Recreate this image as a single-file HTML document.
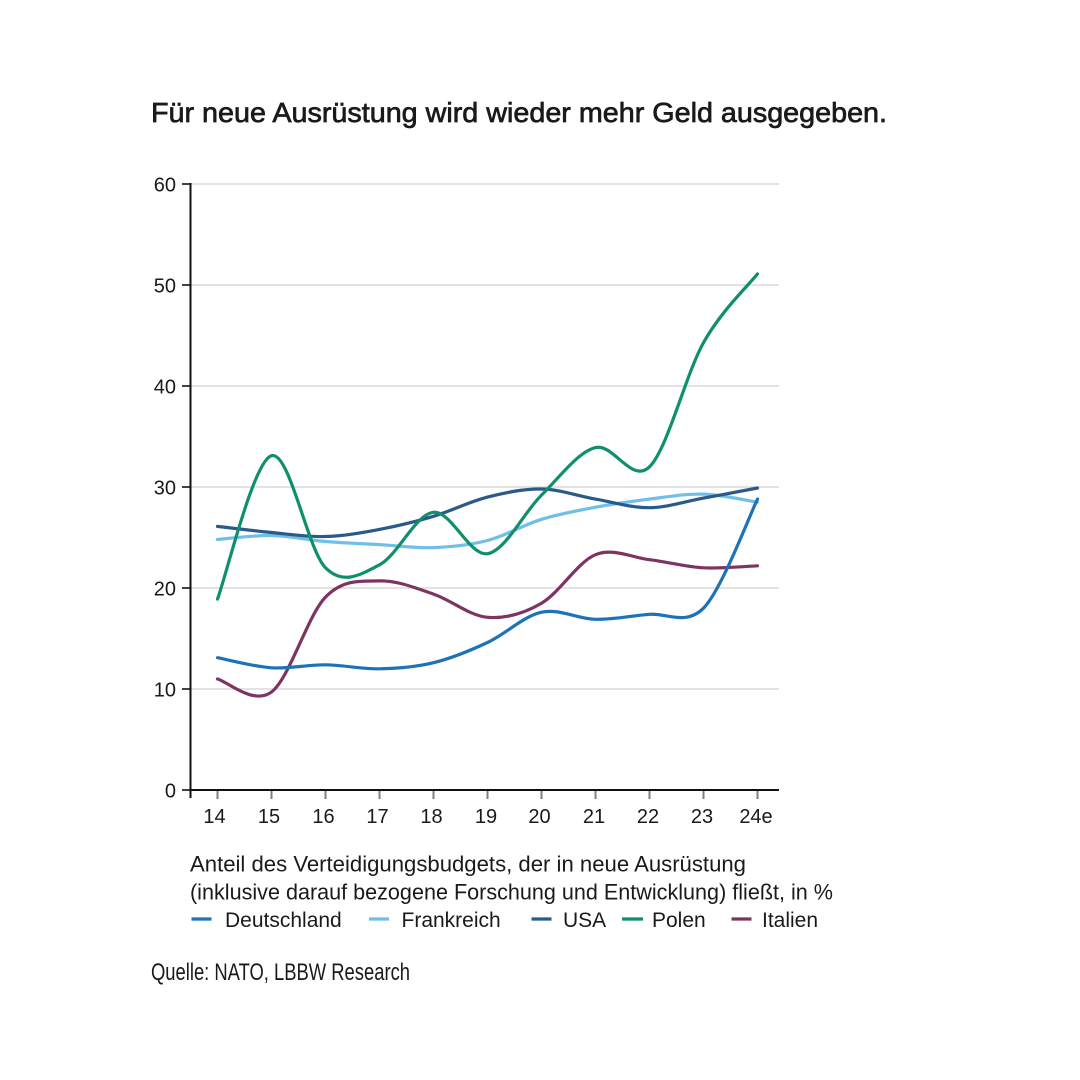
<!DOCTYPE html>
<html>
<head>
<meta charset="utf-8">
<style>
  html, body { margin:0; padding:0; background:#ffffff; }
  body { width:1080px; height:1080px; overflow:hidden; }
  svg { display:block; }
  text { font-family: "Liberation Sans", "DejaVu Sans", sans-serif; fill:#1a1a1a; }
</style>
</head>
<body>
<svg width="1080" height="1080" viewBox="0 0 1080 1080" xmlns="http://www.w3.org/2000/svg">
  <rect x="0" y="0" width="1080" height="1080" fill="#ffffff"/>

  <!-- Title -->
  <text x="151" y="122" font-size="28" stroke="#1a1a1a" stroke-width="0.7" textLength="736" lengthAdjust="spacingAndGlyphs">Für neue Ausrüstung wird wieder mehr Geld ausgegeben.</text>

  <!-- Gridlines -->
  <g stroke="#dadada" stroke-width="1.4">
    <line x1="191" y1="184" x2="779" y2="184"/>
    <line x1="191" y1="285" x2="779" y2="285"/>
    <line x1="191" y1="386" x2="779" y2="386"/>
    <line x1="191" y1="487" x2="779" y2="487"/>
    <line x1="191" y1="588" x2="779" y2="588"/>
    <line x1="191" y1="689" x2="779" y2="689"/>
  </g>

  <!-- Y ticks -->
  <g stroke="#111" stroke-width="1.6">
    <line x1="182" y1="184" x2="190" y2="184"/>
    <line x1="182" y1="285" x2="190" y2="285"/>
    <line x1="182" y1="386" x2="190" y2="386"/>
    <line x1="182" y1="487" x2="190" y2="487"/>
    <line x1="182" y1="588" x2="190" y2="588"/>
    <line x1="182" y1="689" x2="190" y2="689"/>
    <line x1="182" y1="790" x2="190" y2="790"/>
  </g>

  <!-- X ticks -->
  <g stroke="#808080" stroke-width="2">
    <line x1="217.5" y1="791" x2="217.5" y2="799"/>
    <line x1="271.5" y1="791" x2="271.5" y2="799"/>
    <line x1="325.5" y1="791" x2="325.5" y2="799"/>
    <line x1="379.5" y1="791" x2="379.5" y2="799"/>
    <line x1="433.5" y1="791" x2="433.5" y2="799"/>
    <line x1="487.5" y1="791" x2="487.5" y2="799"/>
    <line x1="541.5" y1="791" x2="541.5" y2="799"/>
    <line x1="595.5" y1="791" x2="595.5" y2="799"/>
    <line x1="649.5" y1="791" x2="649.5" y2="799"/>
    <line x1="703.5" y1="791" x2="703.5" y2="799"/>
    <line x1="757.5" y1="791" x2="757.5" y2="799"/>
  </g>

  <!-- Axes -->
  <line x1="190.5" y1="183" x2="190.5" y2="798" stroke="#111" stroke-width="2"/>
  <line x1="190" y1="790" x2="779" y2="790" stroke="#111" stroke-width="2"/>

  <!-- Y labels -->
  <g font-size="20" text-anchor="end">
    <text x="176" y="191.5">60</text>
    <text x="176" y="292.5">50</text>
    <text x="176" y="393.5">40</text>
    <text x="176" y="494.5">30</text>
    <text x="176" y="595.5">20</text>
    <text x="176" y="696.5">10</text>
    <text x="176" y="797.5">0</text>
  </g>

  <!-- X labels -->
  <g font-size="20" text-anchor="middle">
    <text x="214.5" y="823">14</text>
    <text x="269" y="823">15</text>
    <text x="323.5" y="823">16</text>
    <text x="377.5" y="823">17</text>
    <text x="431.5" y="823">18</text>
    <text x="486" y="823">19</text>
    <text x="539.5" y="823">20</text>
    <text x="594" y="823">21</text>
    <text x="648" y="823">22</text>
    <text x="702" y="823">23</text>
    <text x="756" y="823">24e</text>
  </g>

  <!-- Series -->
  <g fill="none" stroke-width="3.2" stroke-linecap="round" stroke-linejoin="round">
    <!-- Frankreich -->
    <path stroke="#6fbfe8" d="M217.5,539.5 C226.5,538.8 253.5,535.2 271.5,535.5 C289.5,535.8 307.5,540.0 325.5,541.5 C343.5,543.0 361.5,543.6 379.5,544.6 C397.5,545.6 415.5,548.3 433.5,547.6 C451.5,546.9 469.5,545.2 487.5,540.5 C505.5,535.8 523.5,524.9 541.5,519.3 C559.5,513.8 577.5,510.6 595.5,507.2 C613.5,503.8 631.5,501.3 649.5,499.1 C667.5,496.9 685.5,493.6 703.5,494.1 C721.5,494.6 748.5,500.9 757.5,502.2"/>
    <!-- USA -->
    <path stroke="#2a5a8a" d="M217.5,526.4 C226.5,527.4 253.5,530.8 271.5,532.5 C289.5,534.2 307.5,537.0 325.5,536.5 C343.5,536.0 361.5,532.8 379.5,529.4 C397.5,526.0 415.5,521.7 433.5,516.3 C451.5,510.9 469.5,501.7 487.5,497.1 C505.5,492.6 523.5,488.7 541.5,489.0 C559.5,489.3 577.5,496.0 595.5,499.1 C613.5,502.2 631.5,507.9 649.5,507.7 C667.5,507.5 685.5,501.4 703.5,498.1 C721.5,494.8 748.5,489.7 757.5,488.0"/>
    <!-- Polen -->
    <path stroke="#0f8f6c" d="M217.5,599.1 C226.5,575.2 253.5,460.9 271.5,455.7 C289.5,450.5 307.5,549.6 325.5,567.8 C343.5,586.0 361.5,574.1 379.5,564.8 C397.5,555.6 415.5,514.2 433.5,512.3 C451.5,510.5 469.5,556.6 487.5,553.7 C505.5,550.8 523.5,512.8 541.5,495.1 C559.5,477.4 577.5,452.3 595.5,447.6 C613.5,442.9 631.5,484.3 649.5,466.8 C667.5,449.3 685.5,374.8 703.5,342.6 C721.5,310.5 748.5,285.4 757.5,273.9"/>
    <!-- Italien -->
    <path stroke="#7d3461" d="M217.5,678.9 C226.5,681.1 253.5,705.6 271.5,692.0 C289.5,678.4 307.5,615.6 325.5,597.1 C343.5,578.6 361.5,581.4 379.5,580.9 C397.5,580.4 415.5,588.0 433.5,594.1 C451.5,600.2 469.5,615.8 487.5,617.3 C505.5,618.8 523.5,613.6 541.5,603.2 C559.5,592.8 577.5,562.0 595.5,554.7 C613.5,547.5 631.5,557.5 649.5,559.7 C667.5,561.9 685.5,566.8 703.5,567.8 C721.5,568.8 748.5,566.1 757.5,565.8"/>
    <!-- Deutschland -->
    <path stroke="#1d72b8" d="M217.5,657.7 C226.5,659.4 253.5,666.6 271.5,667.8 C289.5,669.0 307.5,664.6 325.5,664.8 C343.5,665.0 361.5,669.2 379.5,668.8 C397.5,668.5 415.5,667.1 433.5,662.7 C451.5,658.3 469.5,650.9 487.5,642.5 C505.5,634.1 523.5,616.1 541.5,612.2 C559.5,608.3 577.5,619.0 595.5,619.3 C613.5,619.7 631.5,615.7 649.5,614.3 C667.5,613.0 685.5,626.0 703.5,608.2 C721.5,590.0 748.5,517.8 757.5,499.1"/>
  </g>

  <!-- Caption -->
  <g font-size="22">
    <text x="190" y="871.5" textLength="556" lengthAdjust="spacingAndGlyphs">Anteil des Verteidigungsbudgets, der in neue Ausrüstung</text>
    <text x="190" y="899.5" textLength="643" lengthAdjust="spacingAndGlyphs">(inklusive darauf bezogene Forschung und Entwicklung) fließt, in %</text>
  </g>

  <!-- Legend -->
  <g stroke-width="3.2" stroke-linecap="butt">
    <line x1="191.5" y1="919" x2="211.5" y2="919" stroke="#1d72b8"/>
    <line x1="369" y1="919" x2="389" y2="919" stroke="#6fbfe8"/>
    <line x1="531.5" y1="919" x2="551.5" y2="919" stroke="#2a5a8a"/>
    <line x1="622" y1="919" x2="643" y2="919" stroke="#0f8f6c"/>
    <line x1="731.5" y1="919" x2="751.5" y2="919" stroke="#7d3461"/>
  </g>
  <g font-size="21">
    <text x="225" y="927">Deutschland</text>
    <text x="401.5" y="927">Frankreich</text>
    <text x="563" y="927">USA</text>
    <text x="652" y="927">Polen</text>
    <text x="762" y="927">Italien</text>
  </g>

  <!-- Source -->
  <text x="151" y="980" font-size="24" textLength="259" lengthAdjust="spacingAndGlyphs">Quelle: NATO, LBBW Research</text>
</svg>
</body>
</html>
